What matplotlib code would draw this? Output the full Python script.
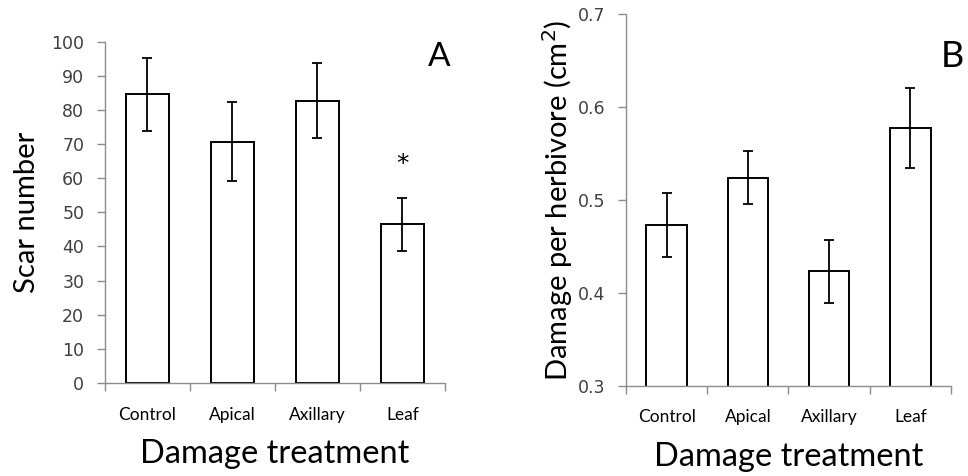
import numpy as np
import matplotlib.pyplot as plt

treatments = ["Control", "Apical", "Axillary", "Leaf"]

scar_mean = [84.6, 70.7, 82.7, 46.5]
scar_err = [10.7, 11.5, 11.0, 7.7]

damage_mean = [0.473, 0.524, 0.423, 0.577]
damage_err = [0.034, 0.029, 0.034, 0.043]

AXIS_GREY = "#8c8c8c"


def style_axes(ax, ylim, yticks, ytick_fmt, ylabel):
    x = np.arange(len(treatments))
    ax.set_xlim(-0.5, len(treatments) - 0.5)
    ax.set_ylim(*ylim)
    ax.set_yticks(yticks)
    ax.set_yticklabels([ytick_fmt.format(v) for v in yticks],
                       family="DejaVu Sans", fontsize=12.5, color="#404040")
    # category ticks sit between bars, labels go on minor ticks
    ax.set_xticks(np.arange(-0.5, len(treatments), 1.0))
    ax.set_xticklabels([])
    ax.set_xticks(x, minor=True)
    ax.set_xticklabels(treatments, minor=True, family="Lato", fontsize=12.5)
    ax.tick_params(axis="x", which="major", length=6, color=AXIS_GREY, width=1)
    ax.tick_params(axis="x", which="minor", length=0, pad=17)
    ax.tick_params(axis="y", length=6, color=AXIS_GREY, width=1, pad=9)
    for side in ["top", "right"]:
        ax.spines[side].set_visible(False)
    for side in ["left", "bottom"]:
        ax.spines[side].set_color(AXIS_GREY)
        ax.spines[side].set_linewidth(1)
    ax.set_ylabel(ylabel, family="Lato", fontsize=21)
    ax.set_xlabel("Damage treatment", family="Lato", fontsize=23.5, labelpad=12)


fig = plt.figure(figsize=(9.68, 4.76), dpi=100)
x = np.arange(len(treatments))
err_style = dict(ecolor="black", elinewidth=1.3, capsize=3.5, capthick=1.3)

# panel A: scar number
ax1 = fig.add_axes([0.1085, 0.1954, 0.351, 0.717])
ax1.bar(x, scar_mean, width=0.5, color="white", edgecolor="black", linewidth=1.4,
        yerr=scar_err, error_kw=err_style)
style_axes(ax1, (0, 100), np.arange(0, 101, 10), "{:.0f}", "Scar number")
ax1.text(3, scar_mean[3] + scar_err[3] + 10, "*", ha="center", va="center",
         fontsize=18, family="DejaVu Sans")
ax1.text(0.985, 0.956, "A", transform=ax1.transAxes, ha="center", va="center",
         fontsize=24, family="Lato")
ax1.yaxis.set_label_coords(-0.19, 0.5)

# panel B: damage per herbivore
ax2 = fig.add_axes([0.6467, 0.1897, 0.3357, 0.781])
ax2.bar(x, damage_mean, width=0.5, color="white", edgecolor="black", linewidth=1.4,
        yerr=damage_err, error_kw=err_style)
style_axes(ax2, (0.3, 0.7), np.round(np.arange(0.3, 0.71, 0.1), 1), "{:.1f}",
           "Damage per herbivore (cm$^2$)")
ax2.text(1.003, 0.885, "B", transform=ax2.transAxes, ha="center", va="center",
         fontsize=26, family="Lato")
ax2.yaxis.set_label_coords(-0.158, 0.5)

fig.savefig("out.png", dpi=100)
